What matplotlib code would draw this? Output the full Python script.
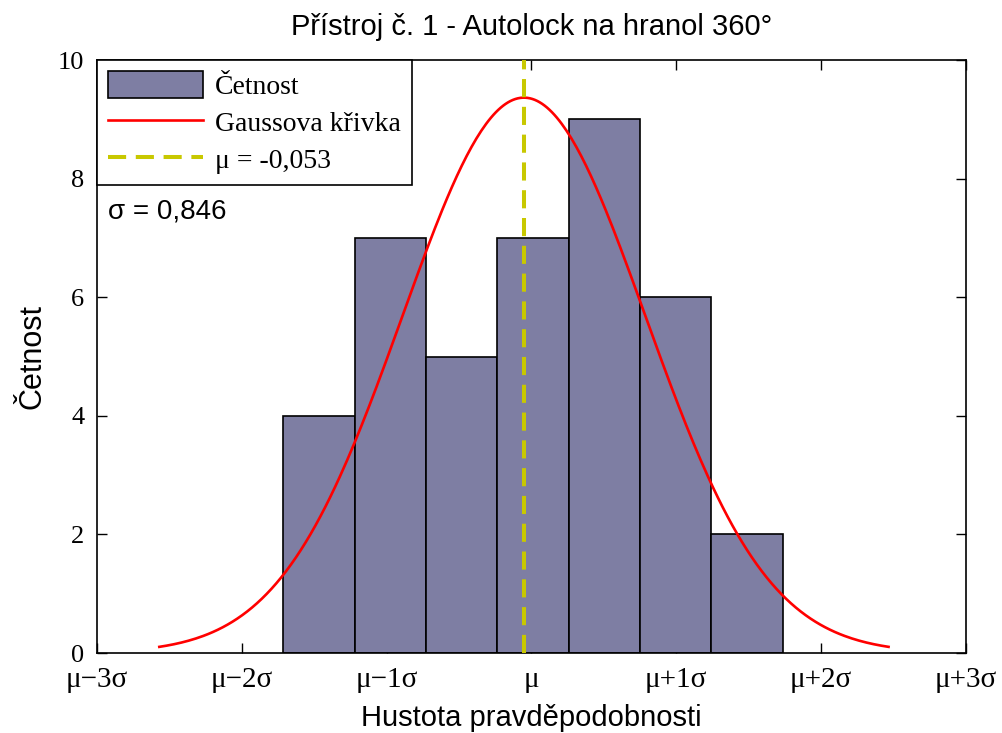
import numpy as np
import matplotlib
matplotlib.use("Agg")
import matplotlib.pyplot as plt

# histogram of deviations, instrument no. 1
counts = [4, 7, 5, 7, 9, 6, 2]
bin_lo, bin_hi = -1.459, 1.458
mu = -0.053
sigma = 0.846
sigma_fit = 0.71           # spread of the fitted Gaussian curve
x_center = -0.009          # centre of the x range
tick_labels = ["μ\u22123σ", "μ\u22122σ", "μ\u22121σ", "μ", "μ+1σ", "μ+2σ", "μ+3σ"]

BAR_COLOR = "#7e7ea3"
CURVE_COLOR = "#ff0000"
MEAN_COLOR = "#c8c800"
SANS = "Liberation Sans"
SERIF = "Liberation Serif"

edges = np.linspace(bin_lo, bin_hi, len(counts) + 1)
width = edges[1] - edges[0]

fig = plt.figure(figsize=(10.02, 7.33), dpi=100)
ax = fig.add_axes([0.0968, 0.1091, 0.8672, 0.8090])

bars = ax.bar(edges[:-1], counts, width=width, align="edge", color=BAR_COLOR,
              edgecolor="black", linewidth=1.2, zorder=2)

# Gaussian scaled to the histogram area, drawn over mu +- 3 sigma_fit
xs = np.linspace(mu - 3 * sigma_fit, mu + 3 * sigma_fit, 300)
area = sum(counts) * width
ys = area / (sigma_fit * np.sqrt(2 * np.pi)) * np.exp(-0.5 * ((xs - mu) / sigma_fit) ** 2)
curve, = ax.plot(xs, ys, color=CURVE_COLOR, lw=1.9, zorder=3)

mean_line = ax.axvline(mu, color=MEAN_COLOR, lw=2.9, linestyle=(0, (4.5, 2.4)), zorder=4)

xmin, xmax = x_center - 3 * sigma, x_center + 3 * sigma
ax.set_xlim(xmin, xmax)
ax.set_ylim(0, 10)
ax.set_xticks(np.linspace(xmin, xmax, 7))
ax.set_xticklabels(tick_labels, fontfamily=SERIF, fontsize=21)
ax.set_yticks(range(0, 11, 2))
ax.set_yticklabels([str(v) for v in range(0, 11, 2)], fontfamily=SERIF, fontsize=19)
ax.tick_params(direction="in", length=7, width=1, top=True, right=True)
ax.tick_params(axis="x", pad=10)
ax.tick_params(axis="y", pad=9)
for s in ax.spines.values():
    s.set_linewidth(1.2)

ax.set_title("Přístroj č. 1 - Autolock na hranol 360°", fontfamily=SANS,
             fontsize=21, pad=18)
ax.set_xlabel("Hustota pravděpodobnosti", fontfamily=SANS, fontsize=21, labelpad=8)
ax.set_ylabel("Četnost", fontfamily=SANS, fontsize=22, labelpad=8)

leg = ax.legend([bars, curve, mean_line],
                ["Četnost", "Gaussova křivka", f"μ = {mu:.3f}".replace(".", ",")],
                loc="upper left", borderaxespad=0, fancybox=False, framealpha=1,
                prop={"family": SERIF, "size": 20}, handlelength=3.4,
                handleheight=1.1, handletextpad=0.45, labelspacing=0.3,
                borderpad=0.4)
leg.get_frame().set_edgecolor("black")
leg.get_frame().set_linewidth(1.2)

ax.text(0.013, 0.744, f"σ = {sigma:.3f}".replace(".", ","), transform=ax.transAxes,
        fontfamily=SANS, fontsize=20, va="center", ha="left")

fig.savefig("out.png", dpi=100)
